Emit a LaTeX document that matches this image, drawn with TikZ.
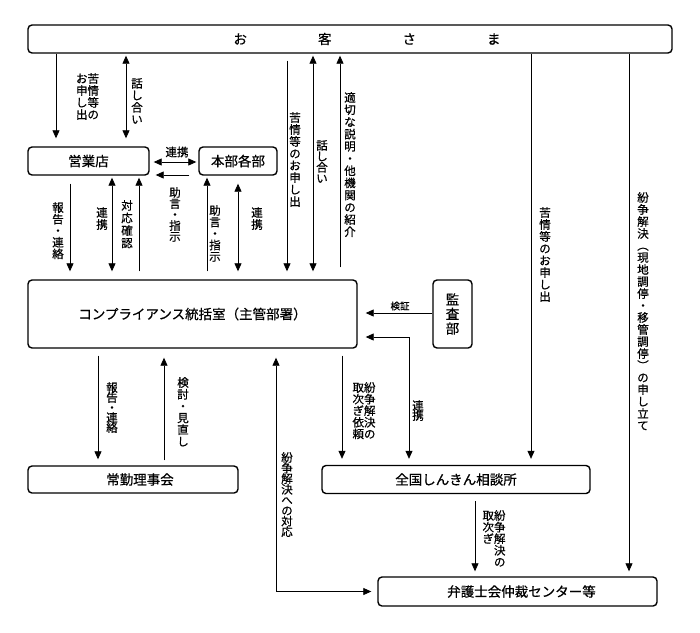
\documentclass[tikz,border=0pt]{standalone}
\usepackage{fontspec}
\usepackage{graphicx}
\setmainfont{Noto Sans CJK JP}[FakeBold=0.6]
\usetikzlibrary{arrows.meta}
\def\vtstop{\vtstop}
\newcommand\vt[2][12pt]{\vtop{\baselineskip=#1\lineskip=0pt\lineskiplimit=-100pt\vtloop#2\vtstop}}
\def\vtloop#1{\ifx\vtstop#1\else\hbox to 1em{\hss#1\hss}\expandafter\vtloop\fi}
\newcommand\vpo{\rotatebox[origin=c]{-90}{（}}
\newcommand\vpc{\rotatebox[origin=c]{-90}{）}}
\tikzset{
  box/.style={draw, line width=1.4pt, rounded corners=4pt, inner sep=0pt, font=\fontsize{13.5}{16}\selectfont},
  arr/.style={line width=0.8pt, -{Triangle[length=8pt,width=7pt]}},
  arrb/.style={line width=0.8pt, {Triangle[length=8pt,width=7pt]}-{Triangle[length=8pt,width=7pt]}},
  lab/.style={inner sep=0pt, anchor=north, font=\fontsize{11.5}{12}\selectfont},
  hlab/.style={inner sep=0pt, font=\fontsize{11.5}{12}\selectfont}
}
\begin{document}
\begin{tikzpicture}[x=1pt,y=-1pt]
\path[fill=white] (0,0) rectangle (700,632);
\useasboundingbox (0,0) rectangle (700,632);
% boxes
\node[box, minimum width=644pt, minimum height=28pt] (cust) at (350,39) {};
\node[inner sep=0pt, font=\fontsize{13.5}{16}\selectfont] (custtxt) at (367,39) {お\hspace{71pt}客\hspace{71pt}さ\hspace{71pt}ま};
\node[box, minimum width=121pt, minimum height=28pt] (eig) at (88.5,161) {営業店};
\node[box, minimum width=78pt, minimum height=28pt] (hon) at (238,161) {本部各部};
\node[box, minimum width=329pt, minimum height=68pt] (comp) at (192.5,314) {コンプライアンス統括室（主管部署）};
\node[box, minimum width=39pt, minimum height=68pt] (audit) at (452.5,314) {\vt[14.5pt]{監査部}};
\node[box, minimum width=210pt, minimum height=27pt] (jok) at (133,479.5) {\hspace*{14pt}常勤理事会};
\node[box, minimum width=268pt, minimum height=28pt] (zen) at (456,479.5) {全国しんきん相談所};
\node[box, minimum width=279pt, minimum height=29pt] (ben) at (517.5,591.5) {\hspace*{8pt}弁護士会仲裁センター等};
% arrows
\draw[arr, shorten >=8pt] (56,0 |- cust.south) -- (56,0 |- eig.north);
\draw[arrb, shorten <=2pt, shorten >=8pt] (126,0 |- cust.south) -- (126,0 |- eig.north);
\draw[arrb, shorten <=4pt, shorten >=2pt] (eig.east |- 0,162) -- (hon.west |- 0,162);
\draw[arr, shorten <=9pt, shorten >=6pt] (hon.west |- 0,175) -- (eig.east |- 0,175);
\draw[arr, shorten <=8pt, shorten >=8pt] (70,0 |- eig.south) -- (70,0 |- comp.north);
\draw[arrb, shorten <=2pt, shorten >=8pt] (112,0 |- eig.south) -- (112,0 |- comp.north);
\draw[arr, shorten <=8pt, shorten >=2pt] (139,0 |- comp.north) -- (139,0 |- eig.south);
\draw[arr, shorten <=8pt, shorten >=2pt] (207,0 |- comp.north) -- (207,0 |- hon.south);
\draw[arrb, shorten <=8pt, shorten >=8pt] (238,0 |- hon.south) -- (238,0 |- comp.north);
\draw[arr, shorten <=7pt, shorten >=8pt] (287,0 |- cust.south) -- (287,0 |- comp.north);
\draw[arrb, shorten <=2pt, shorten >=8pt] (313,0 |- cust.south) -- (313,0 |- comp.north);
\draw[arr, shorten <=12pt, shorten >=2pt] (340,0 |- comp.north) -- (340,0 |- cust.south);
\draw[arr, shorten >=6pt] (531,0 |- cust.south) -- (531,0 |- zen.north);
\draw[arr, shorten >=5pt] (629,0 |- cust.south) -- (629,0 |- ben.north);
\draw[arr, shorten <=7pt, shorten >=6pt] (98,0 |- comp.south) -- (98,0 |- jok.north);
\draw[arr, shorten <=5pt, shorten >=9pt] (164,0 |- jok.north) -- (164,0 |- comp.south);
\draw[arrb, shorten <=9pt, shorten >=6pt] (276,0 |- comp.south) -- (276,0 |- ben.west) -- (ben.west);
\draw[arr, shorten <=7pt, shorten >=6pt] (342,0 |- comp.south) -- (342,0 |- zen.north);
\draw[arrb, shorten <=8pt, shorten >=6pt] (comp.east |- 0,337) -- (409,337) -- (409,0 |- zen.north);
\draw[arr, shorten >=8pt] (audit.west |- 0,313) -- (comp.east |- 0,313);
\draw[arr, shorten <=7pt, shorten >=5pt] (475,0 |- zen.south) -- (475,0 |- ben.north);
% labels
\node[lab] (l1) at (87.5,73) {\vt{お申し出}\vt{苦情等の}};
\node[lab] (l2) at (137,78) {\vt{話し合い}};
\node[hlab] (l3) at (177,152) {連携};
\node[lab] (l4) at (175,187) {\vt[11pt]{助言・指示}};
\node[lab] (l5) at (58,202) {\vt[11.6pt]{報告・連絡}};
\node[lab] (l6) at (102,207) {\vt{連携}};
\node[lab] (l7) at (127,200) {\vt[12.5pt]{対応確認}};
\node[lab] (l8) at (215,205) {\vt[11.5pt]{助言・指示}};
\node[lab] (l9) at (257,207) {\vt{連携}};
\node[lab] (l10) at (295,112) {\vt{苦情等のお申し出}};
\node[lab] (l11) at (322,140) {\vt[11pt]{話し合い}};
\node[lab] (l12) at (350,92) {\vt[12.2pt]{適切な説明・他機関の紹介}};
\node[lab] (l13) at (545,207) {\vt{苦情等のお申し出}};
\node[lab] (l14) at (643,192) {\vt{紛争解決\vpo 現地調停・移管調停\vpc の申し立て}};
\node[lab] (l15) at (112,382) {\vt[10pt]{報告・連絡}};
\node[lab] (l16) at (183,377) {\vt[11.8pt]{検討・見直し}};
\node[lab] (l17) at (287,452) {\vt[10.6pt]{紛争解決への対応}};
\node[lab] (l18) at (364,382) {\vt[11.6pt]{取次ぎ依頼}\vt[11.6pt]{紛争解決の}};
\node[lab] (l19) at (418,400) {\vt[10pt]{連携}};
\node[hlab, font=\fontsize{9.5}{11}\selectfont] (l20) at (400,306) {検証};
\node[lab] (l21) at (494,510) {\vt[11.6pt]{取次ぎ}\vt[11.6pt]{紛争解決の}};
\end{tikzpicture}
\end{document}
